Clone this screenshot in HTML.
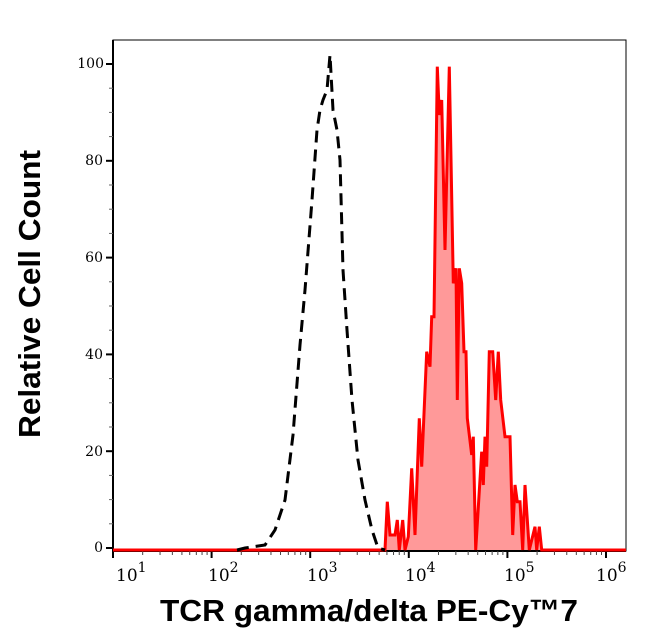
<!DOCTYPE html>
<html><head><style>
body{margin:0;background:#fff;}
svg{display:block;font-family:"DejaVu Serif","Liberation Serif",serif;}
</style></head><body>
<svg width="646" height="641" viewBox="0 0 646 641">
<rect x="0" y="0" width="646" height="641" fill="#fff"/>
<rect x="113" y="40" width="513" height="511" fill="none" stroke="#000" stroke-width="1"/>
<line x1="113" y1="40" x2="113" y2="552" stroke="#000" stroke-width="2"/>
<line x1="112" y1="551" x2="626" y2="551" stroke="#000" stroke-width="2"/>
<g stroke="#000" stroke-width="2">
<line x1="106" y1="548" x2="113" y2="548"/><line x1="106" y1="451.2" x2="113" y2="451.2"/>
<line x1="106" y1="354.4" x2="113" y2="354.4"/><line x1="106" y1="257.6" x2="113" y2="257.6"/>
<line x1="106" y1="160.8" x2="113" y2="160.8"/><line x1="106" y1="64" x2="113" y2="64"/>
</g>
<g stroke="#666" stroke-width="1">
<line x1="109" y1="523.8" x2="113" y2="523.8"/><line x1="109" y1="499.6" x2="113" y2="499.6"/><line x1="109" y1="475.4" x2="113" y2="475.4"/>
<line x1="109" y1="427" x2="113" y2="427"/><line x1="109" y1="402.8" x2="113" y2="402.8"/><line x1="109" y1="378.6" x2="113" y2="378.6"/>
<line x1="109" y1="330.2" x2="113" y2="330.2"/><line x1="109" y1="306" x2="113" y2="306"/><line x1="109" y1="281.8" x2="113" y2="281.8"/>
<line x1="109" y1="233.4" x2="113" y2="233.4"/><line x1="109" y1="209.2" x2="113" y2="209.2"/><line x1="109" y1="185" x2="113" y2="185"/>
<line x1="109" y1="136.6" x2="113" y2="136.6"/><line x1="109" y1="112.4" x2="113" y2="112.4"/><line x1="109" y1="88.2" x2="113" y2="88.2"/>
</g>
<g font-size="14" text-anchor="end" fill="#000">
<text x="103" y="552">0</text><text x="103" y="456">20</text><text x="103" y="359">40</text>
<text x="103" y="262">60</text><text x="103" y="165">80</text><text x="104" y="68">100</text>
</g>
<g id="xt" stroke="#000" stroke-width="1.5"></g>
<g font-size="17" fill="#000">
<text x="116" y="581">10<tspan dy="-9" font-size="14">1</tspan></text>
<text x="208" y="581">10<tspan dy="-9" font-size="14">2</tspan></text>
<text x="307" y="581">10<tspan dy="-9" font-size="14">3</tspan></text>
<text x="405" y="581">10<tspan dy="-9" font-size="14">4</tspan></text>
<text x="504" y="581">10<tspan dy="-9" font-size="14">5</tspan></text>
<text x="596" y="581">10<tspan dy="-9" font-size="14">6</tspan></text>
</g>
<polygon fill="#ff9999" stroke="none" points="385,550 387.3,501.7 390,535 395,535 397.3,520 399.3,550 402.7,520 405,550 408.3,536.7 411.7,468.3 415,535 419.3,418.3 421.7,466.7 426.7,351.7 430,366.7 431.7,316.7 434,316.7 437.3,66.7 439.3,115 441.7,100 445,250 449.3,66.7 453.3,283.3 456,268.3 457.3,400 459.3,268.3 461.7,283.3 464,351.7 466,351.7 467.3,418.3 471.7,455 473.3,436.7 475.7,550 481.7,451.7 483.3,485 485,436.7 486.7,466.7 489.3,351.7 492.7,351.7 495.7,400 498.3,351.7 500.7,400 505,436.7 510,436.7 512.7,535 515,485 517.3,501.7 520,501.7 522.7,550 525,485 529.3,550 535,526.7 536.7,550 539.3,526.7 541.7,550"/>
<polyline fill="none" stroke="#ff0000" stroke-width="3" points="113,550 385,550 387.3,501.7 390,535 395,535 397.3,520 399.3,550 402.7,520 405,550 408.3,536.7 411.7,468.3 415,535 419.3,418.3 421.7,466.7 426.7,351.7 430,366.7 431.7,316.7 434,316.7 437.3,66.7 439.3,115 441.7,100 445,250 449.3,66.7 453.3,283.3 456,268.3 457.3,400 459.3,268.3 461.7,283.3 464,351.7 466,351.7 467.3,418.3 471.7,455 473.3,436.7 475.7,550 481.7,451.7 483.3,485 485,436.7 486.7,466.7 489.3,351.7 492.7,351.7 495.7,400 498.3,351.7 500.7,400 505,436.7 510,436.7 512.7,535 515,485 517.3,501.7 520,501.7 522.7,550 525,485 529.3,550 535,526.7 536.7,550 539.3,526.7 541.7,550 626,550"/>
<polyline fill="none" stroke="#000" stroke-width="3" stroke-dasharray="12,7" points="237,550 245,548 265,545 275,530 285,500 293,435 300,345 305,290 312,200 317,130 320,110 323,100 327,90 330,55 333,110 337,130 340,160 343,270 347,330 352,400 358,460 365,500 372,530 378,548 385,550"/>
<text x="369" y="621" font-family="Liberation Sans,sans-serif" font-weight="bold" font-size="31" text-anchor="middle" textLength="418" lengthAdjust="spacingAndGlyphs">TCR gamma/delta PE-Cy™7</text>
<text transform="translate(40,294) rotate(-90)" font-family="Liberation Sans,sans-serif" font-weight="bold" font-size="31" text-anchor="middle" textLength="288" lengthAdjust="spacingAndGlyphs">Relative Cell Count</text>
</svg>
<script>
var g=document.getElementById('xt'),s='';
for(var d=0;d<6;d++){var x0=113+d*98.6;
s+='<line x1="'+x0+'" y1="551" x2="'+x0+'" y2="558" stroke-width="2"/>';
if(d<5)for(var k=2;k<10;k++){var x=x0+Math.log10(k)*98.6;s+='<line x1="'+x+'" y1="551" x2="'+x+'" y2="555" stroke="#444" stroke-width="1"/>';}}
g.innerHTML=s;
</script>
</body></html>
